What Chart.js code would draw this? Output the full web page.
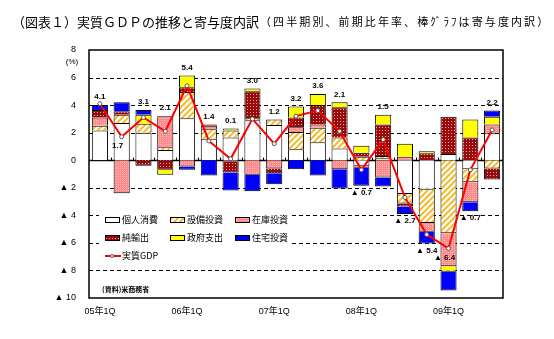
<!DOCTYPE html>
<html lang="ja">
<head>
<meta charset="utf-8">
<title>実質GDPの推移と寄与度内訳</title>
<script src="https://cdn.jsdelivr.net/npm/chart.js@4.4.1/dist/chart.umd.min.js"></script>
<style>
    html, body { margin: 0; padding: 0; background: #fff; }
    #wrap { width: 554px; height: 339px; }
</style>
</head>
<body>
<div id="wrap"><canvas id="gdpChart" width="554" height="339"></canvas></div>
<script>
// quarters, 05Q1 .. 09Q3
const quarters = ['05年1Q', '05年2Q', '05年3Q', '05年4Q',
    '06年1Q', '06年2Q', '06年3Q', '06年4Q',
    '07年1Q', '07年2Q', '07年3Q', '07年4Q',
    '08年1Q', '08年2Q', '08年3Q', '08年4Q',
    '09年1Q', '09年2Q', '09年3Q'];

// contributions (% points)
const consumption = [2.15, 2.7, 2.0, 0.75, 3.05, 1.55, 1.65, 2.9, 2.55, 0.8, 1.3, 0.85, -0.4, 0.15, -2.45, -2.15, 0.45, -0.65, 1.95];
const equipment   = [0.35, 0.6, 0.65, 0.2, 1.9, 0.7, 0.5, 0.15, 0.4, 1.25, 1.05, 0.8, 0.25, 0.15, -0.7, -2.4, -5.3, -0.95, -0.6];
const inventory   = [0.6, -2.4, 0, 2.25, -0.45, 0.25, -0.1, -1.05, -0.6, 0.35, 0.25, -0.65, -0.15, -1.25, 0.25, -0.65, -2.4, -1.45, 0.65];
const netExports  = [0.55, 0.25, -0.4, -0.7, 0.35, 0.1, -0.8, 1.95, -0.35, 0.7, 1.4, 2.2, 0.3, 2.3, -0.2, 0.5, 2.7, 1.65, -0.8];
const government  = [0, 0, 0.65, -0.35, 0.85, 0, 0.15, 0.2, 0, 0.8, 0.8, 0.35, 0.5, 0.7, 0.95, 0.15, -0.4, 1.3, 0.55];
const housing     = [0.35, 0.65, 0.35, 0, -0.25, -1.1, -1.3, -1.2, -0.8, -0.65, -1.1, -1.4, -1.3, -0.65, -0.55, -0.85, -1.35, -0.65, 0.45];
const realGdp     = [4.1, 1.7, 3.1, 2.1, 5.4, 1.4, 0.1, 3.0, 1.2, 3.2, 3.6, 2.1, -0.7, 1.5, -2.7, -5.4, -6.4, -0.7, 2.2];

// y axis range
const yMin = -10;
const yMax = 8;
const yStep = 2;

// labels that sit just under the line point instead of beside the bar
const labelUnderPoint = [1, 16];

const FONT = '"Liberation Sans", "DejaVu Sans", "Noto Sans CJK JP", sans-serif';
const JP = '"Noto Sans CJK JP", sans-serif';

function makeTile(w, h, draw) {
    const c = document.createElement('canvas');
    c.width = w;
    c.height = h;
    draw(c.getContext('2d'));
    return c.getContext('2d').createPattern(c, 'repeat');
}

const hatch = makeTile(6, 6, g => {
    g.fillStyle = '#fff';
    g.fillRect(0, 0, 6, 6);
    g.strokeStyle = '#F4BC2C';
    g.lineWidth = 2;
    g.beginPath();
    g.moveTo(-1, 7); g.lineTo(7, -1);
    g.moveTo(-1, 1); g.lineTo(1, -1);
    g.moveTo(5, 7); g.lineTo(7, 5);
    g.stroke();
});

const pinkDots = makeTile(2, 2, g => {
    g.fillStyle = '#FF8A8A';
    g.fillRect(0, 0, 2, 2);
    g.fillStyle = '#FFB4B4';
    g.fillRect(0, 0, 1, 1);
});

const redDots = makeTile(3, 3, g => {
    g.fillStyle = '#9A0A0A';
    g.fillRect(0, 0, 3, 3);
    g.fillStyle = '#E8A8A8';
    g.fillRect(1, 1, 1, 1);
});

function barSet(label, data, color) {
    return {
        type: 'bar',
        label: label,
        data: data,
        backgroundColor: color,
        borderColor: '#000',
        borderWidth: 1,
        order: 1,
        stack: 'parts'
    };
}

const overlay = {
    id: 'overlay',
    beforeDatasetsDraw(chart) {
        const { ctx, chartArea: a, scales: { x, y } } = chart;
        ctx.save();
        ctx.strokeStyle = '#000';
        ctx.lineWidth = 1;
        ctx.setLineDash([4, 3]);
        y.ticks.forEach(t => {
            if (t.value === 0 || t.value === yMax || t.value === yMin) return;
            const py = Math.round(y.getPixelForValue(t.value)) + 0.5;
            ctx.beginPath();
            ctx.moveTo(a.left, py);
            ctx.lineTo(a.right, py);
            ctx.stroke();
        });
        ctx.setLineDash([]);
        const y0 = Math.round(y.getPixelForValue(0)) + 0.5;
        ctx.lineWidth = 1.5;
        ctx.beginPath();
        ctx.moveTo(a.left, y0);
        ctx.lineTo(a.right, y0);
        ctx.stroke();
        ctx.lineWidth = 1;
        for (let i = 1; i < quarters.length; i++) {
            const px = Math.round((x.getPixelForValue(i - 1) + x.getPixelForValue(i)) / 2) + 0.5;
            ctx.beginPath();
            ctx.moveTo(px, y0);
            ctx.lineTo(px, y0 - 3);
            ctx.stroke();
        }
        ctx.restore();
    },
    afterDatasetsDraw(chart) {
        const { ctx, chartArea: a, scales: { x, y } } = chart;
        ctx.save();

        // frame
        ctx.strokeStyle = '#000';
        ctx.lineWidth = 1.5;
        ctx.strokeRect(a.left, a.top, a.right - a.left, a.bottom - a.top);

        // value labels
        const barMetas = chart.data.datasets
            .map((d, k) => chart.getDatasetMeta(k))
            .filter(m => m.type === 'bar');
        ctx.fillStyle = '#000';
        ctx.font = 'bold 8px ' + FONT;
        ctx.textAlign = 'center';
        ctx.textBaseline = 'middle';
        realGdp.forEach((v, i) => {
            let top = y.getPixelForValue(0), bottom = top;
            barMetas.forEach(m => {
                const el = m.data[i];
                top = Math.min(top, el.y, el.base);
                bottom = Math.max(bottom, el.y, el.base);
            });
            const text = v < 0 ? '▲ ' + Math.abs(v).toFixed(1) : v.toFixed(1);
            let px = x.getPixelForValue(i), py;
            if (labelUnderPoint.includes(i)) {
                py = y.getPixelForValue(v) + 9;
                px -= 4;
            } else if (v >= 0) {
                py = top - 8;
            } else {
                py = bottom + 7;
            }
            ctx.fillText(text, px, py);
        });

        // legend
        const lx = a.left + 16, ly = a.top + 170, colW = 65, rowH = 18;
        ctx.fillStyle = '#fff';
        ctx.fillRect(a.left + 10, ly - 13, 192, 55);
        ctx.font = '9px ' + JP;
        ctx.textAlign = 'left';
        chart.data.datasets.forEach((d, k) => {
            if (d.type === 'bar') {
                const sx = lx + (k % 3) * colW, sy = ly + Math.floor(k / 3) * rowH;
                ctx.fillStyle = d.backgroundColor;
                ctx.fillRect(sx, sy - 2.5, 14, 5);
                ctx.lineWidth = 1;
                ctx.strokeStyle = '#000';
                ctx.strokeRect(sx + 0.5, sy - 2.5, 14, 5);
                ctx.fillStyle = '#000';
                ctx.fillText(d.label, sx + 17, sy);
            } else {
                const sy = ly + 2 * rowH;
                ctx.strokeStyle = d.borderColor;
                ctx.lineWidth = 2;
                ctx.beginPath();
                ctx.moveTo(lx, sy);
                ctx.lineTo(lx + 16, sy);
                ctx.stroke();
                ctx.fillStyle = '#fff';
                ctx.strokeStyle = '#555';
                ctx.lineWidth = 1;
                ctx.beginPath();
                ctx.arc(lx + 7, sy, 1.5, 0, Math.PI * 2);
                ctx.fill();
                ctx.stroke();
                ctx.fillStyle = '#000';
                ctx.fillText(d.label, lx + 17, sy);
            }
        });

        // source, unit
        ctx.fillStyle = '#000';
        ctx.font = 'bold 7px ' + JP;
        ctx.fillText('(資料)米商務省', a.left + 13, a.bottom - 9);
        ctx.font = '8px ' + FONT;
        ctx.textAlign = 'center';
        ctx.fillText('(%)', 72, a.top + 12);

        // title
        ctx.textAlign = 'left';
        ctx.textBaseline = 'middle';
        ctx.font = '13px ' + JP;
        const head = '（図表１）実質ＧＤＰの推移と寄与度内訳';
        ctx.fillText(head, 12, 22);
        const w = ctx.measureText(head).width;
        ctx.font = '11px ' + JP;
        ctx.letterSpacing = '2.1px';
        ctx.fillText('（四半期別、前期比年率、棒ｸﾞﾗﾌは寄与度内訳）', 12 + w + 1, 22);
        ctx.restore();
    }
};

new Chart(document.getElementById('gdpChart'), {
    data: {
        labels: quarters,
        datasets: [
            barSet('個人消費', consumption, '#FFFFFF'),
            barSet('設備投資', equipment, hatch),
            barSet('在庫投資', inventory, pinkDots),
            barSet('純輸出', netExports, redDots),
            barSet('政府支出', government, '#FFFF00'),
            barSet('住宅投資', housing, '#0000FF'),
            {
                type: 'line',
                label: '実質GDP',
                data: realGdp,
                borderColor: '#FF0000',
                borderWidth: 2,
                tension: 0,
                pointRadius: 2,
                pointBackgroundColor: '#FFFFFF',
                pointBorderColor: '#555555',
                pointBorderWidth: 1,
                order: 0,
                stack: 'gdp'
            }
        ]
    },
    options: {
        responsive: false,
        animation: false,
        layout: { padding: { top: 50, right: 51, left: 0, bottom: 0 } },
        datasets: {
            bar: { barPercentage: 0.74, categoryPercentage: 1 }
        },
        plugins: {
            legend: { display: false },
            title: { display: false },
            tooltip: { enabled: false }
        },
        scales: {
            x: {
                stacked: true,
                grid: { display: false },
                border: { display: false },
                ticks: {
                    autoSkip: false,
                    maxRotation: 0,
                    padding: 0,
                    color: '#000',
                    font: { family: FONT, size: 9 },
                    callback: (v, i) => quarters[i].endsWith('1Q') ? quarters[i] : ''
                },
                afterFit: s => { s.height = 41; }
            },
            y: {
                stacked: true,
                min: yMin,
                max: yMax,
                grid: { display: false },
                border: { display: false },
                ticks: {
                    stepSize: yStep,
                    padding: 5,
                    color: '#000',
                    font: { family: FONT, size: 9 },
                    callback: v => v < 0 ? '▲ ' + (-v) : String(v)
                },
                afterFit: s => { s.width = 89; }
            }
        }
    },
    plugins: [overlay]
});
</script>
</body>
</html>
